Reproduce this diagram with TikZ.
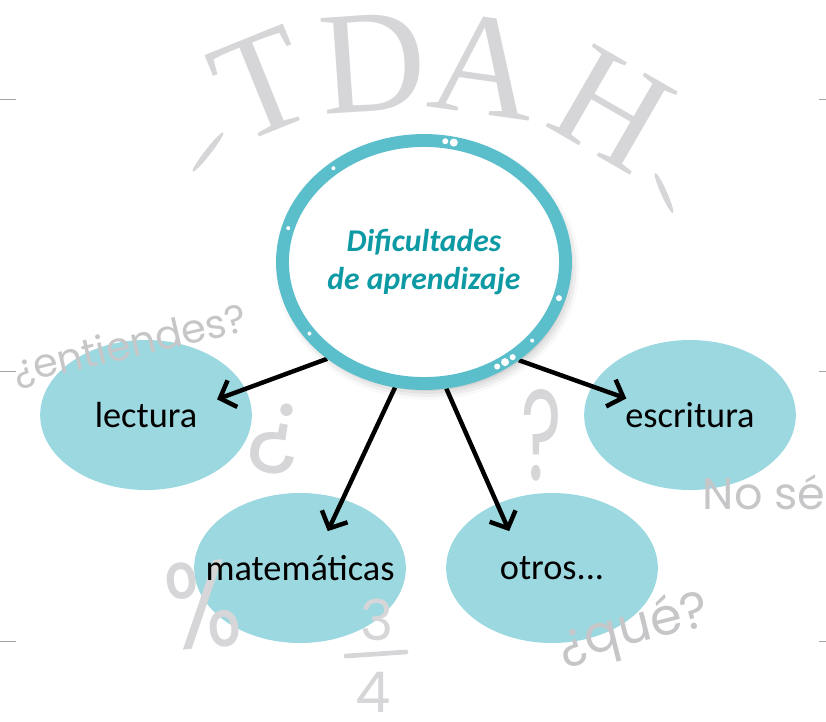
\documentclass[tikz,border=0pt]{standalone}
\usepackage{fontspec}
\setmainfont{Carlito}
\newfontfamily\manoscrita{Poppins}
\newfontfamily\titulo{Liberation Serif}
\usetikzlibrary{shapes.geometric, arrows.meta, calc, backgrounds, shadows.blur}

\definecolor{bordeturq}{RGB}{91,191,203}
\definecolor{rellenoturq}{RGB}{156,216,224}
\definecolor{textoturq}{RGB}{14,154,164}
\definecolor{gris}{RGB}{198,198,200}
\definecolor{grisclaro}{RGB}{214,214,216}
\definecolor{marca}{RGB}{165,165,165}

\pgfdeclarelayer{frente}
\pgfsetlayers{background,main,frente}

\begin{document}
\begin{tikzpicture}[
  x=0.03cm, y=-0.03cm,
  central/.style={ellipse, draw=bordeturq, line width=11pt, fill=white,
                  minimum width=8.49cm, minimum height=7.29cm, inner sep=0pt,
                  align=center, text=textoturq,
                  font=\fontsize{27}{32}\selectfont\bfseries\itshape,
                  blur shadow={shadow xshift=3pt, shadow yshift=-5pt,
                               shadow blur radius=9pt, shadow opacity=35}},
  tema/.style={ellipse, fill=rellenoturq, minimum width=6.35cm,
               minimum height=4.5cm, inner sep=0pt},
  rotulo/.style={inner sep=0pt, font=\fontsize{31}{36}\selectfont},
  arrow/.style={-{Straight Barb[length=4mm, width=8.5mm]}, line width=3.8pt},
  letra/.style={text=grisclaro, inner sep=0pt,
                font=\titulo\fontsize{125}{125}\selectfont},
  nota/.style={text=gris, inner sep=0pt,
               font=\manoscrita\fontsize{#1}{#1}\selectfont},
  hueco/.style={text=grisclaro, inner sep=0pt,
                font=\manoscrita\fontsize{#1}{#1}\selectfont},
  margen/.style={draw=marca, line width=0.8pt},
]
  \useasboundingbox (0,0) rectangle (826,722);

  % marcas de margen
  \foreach \y in {99,371,641} {
    \draw[margen] (0,\y) -- (16,\y);
    \draw[margen] (819,\y) -- (826,\y);
  }

  % titulo
  \node[letra, rotate=22]  (letT) at (262,84)  {T};
  \node[letra, rotate=4]   (letD) at (373,63)  {D};
  \node[letra, rotate=-8]  (letA) at (485,66)  {A};
  \node[letra, rotate=-30] (letH) at (612,109) {H};
  \fill[grisclaro, rotate around={52:(208,152)}]  (208,152) ellipse (25 and 3);
  \fill[grisclaro, rotate around={-66:(664,193)}] (664,193) ellipse (22 and 3);

  % nodo central
  \node[central] (dif) at (424,262) {Dificultades\\de aprendizaje};
  \foreach \a/\r in {76/4, 80/3, 134/2, 166/2, 212/2, 305/3, 309/4, 313/3, 324/2, 345/3}
    \fill[white] ($(dif.center)!0.955!(dif.\a)$) circle (\r);

  \begin{scope}[on background layer]
    \node[tema] (lect)  at (146,415) {};
    \node[tema] (escr)  at (690,415) {};
    \node[tema] (matem) at (300,568) {};
    \node[tema] (otros) at (552,568) {};

    \draw[arrow] (dif.225) -- ($(dif.225)!0.41!(lect.206)$);
    \draw[arrow] (dif.257) -- ($(dif.257)!0.566!(matem.252)$);
    \draw[arrow] (dif.280) -- ($(dif.280)!0.56!(otros.275)$);
    \draw[arrow] (dif.314) -- ($(dif.314)!0.41!(escr.337)$);
  \end{scope}

  % garabatos
  \node[nota=34, rotate=13] (entiendes) at (130,346) {¿entiendes?};
  \node[hueco=86, rotate=-10] (abre)    at (275,438) {¿};
  \node[hueco=110]          (cierra)    at (542,435) {\scalebox{0.6}[1]{?}};
  \node[nota=38]            (nose)      at (778,492) {No sé...};
  \node[nota=44, rotate=14] (que)       at (634,630) {¿qué?};
  \node[hueco=105, rotate=6] (porciento) at (203,605) {\scalebox{0.8}[1]{\%}};
  \node[hueco=48]           (tres)      at (377,620) {3};
  \node[hueco=48]           (cuatro)    at (373,692) {4};
  \draw[grisclaro, line width=4pt, line cap=round] (346,656) -- (406,652);

  % rotulos
  \begin{pgfonlayer}{frente}
    \node[rotulo] (lectTexto)  at (lect)  {lectura};
    \node[rotulo] (escrTexto)  at (escr)  {escritura};
    \node[rotulo] (matemTexto) at (matem) {matemáticas};
    \node[rotulo] (otrosTexto) at (otros) {otros...};
  \end{pgfonlayer}
\end{tikzpicture}
\end{document}
